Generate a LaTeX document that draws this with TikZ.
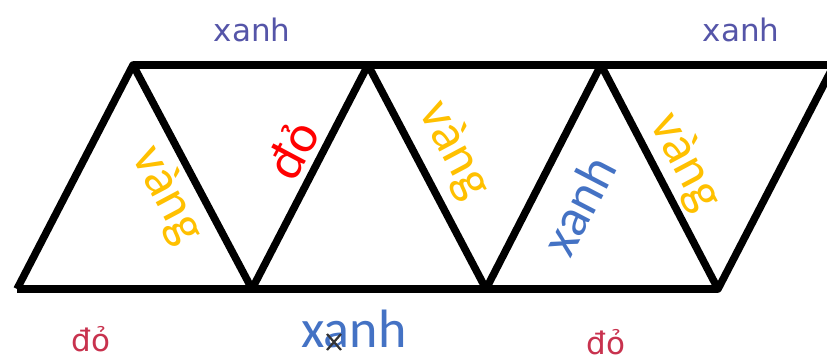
\documentclass[tikz,border=0pt]{standalone}
\usepackage{fontspec}
\setmainfont{DejaVu Sans}
\newfontfamily\calib{Carlito}
\definecolor{topblue}{HTML}{5555A8}
\definecolor{bigblue}{HTML}{4472C4}
\definecolor{yel}{HTML}{FFC000}
\definecolor{brightred}{HTML}{FF0000}
\definecolor{darkred}{HTML}{C8324E}
\begin{document}
\begin{tikzpicture}[x=1bp,y=-1bp,
  edge/.style={line width=7.5bp, black, line join=round},
  smalllbl/.style={inner sep=0pt, font=\fontsize{31bp}{31bp}\selectfont},
  biglbl/.style={inner sep=0pt, font=\calib\fontsize{53bp}{53bp}\selectfont},
]
\useasboundingbox (0,0) rectangle (827,361);
\begin{scope}
\clip (0,0) rectangle (827,361);
\coordinate (b1) at (17,289);
\coordinate (t1) at (133,65);
\coordinate (b2) at (252,289);
\coordinate (t2) at (368,65);
\coordinate (b3) at (486,289);
\coordinate (t3) at (601,65);
\coordinate (b4) at (718,289);
\coordinate (t4) at (834,65);
\coordinate (tr) at (840,65);
\draw[edge] (t1) -- (tr);
\draw[edge] (b1) -- (b4);
\draw[edge] (b1) -- (t1) -- (b2) -- (t2) -- (b3) -- (t3) -- (b4) -- (t4);
\end{scope}
% top labels
\node[smalllbl, text=topblue] (x1) at (252,30) {xanh};
\node[smalllbl, text=topblue] (x2) at (741,30) {xanh};
% bottom labels
\node[smalllbl, text=darkred] (d1) at (91,339) {đỏ};
\node[smalllbl, text=darkred] (d2) at (606,342) {đỏ};
\node[inner sep=0pt, text=bigblue, font=\calib\fontsize{54bp}{54bp}\selectfont] (x3) at (354,329) {xanh};
% small cross mark
\coordinate (m1) at (327,334);
\coordinate (m2) at (341,350);
\coordinate (m3) at (341,334);
\coordinate (m4) at (327,350);
\draw[line width=2.2bp, black!80] (m1) -- (m2) (m3) -- (m4);
% rotated labels
\node[biglbl, text=yel, rotate=-62] (v1) at (167,195) {vàng};
\node[biglbl, text=brightred, rotate=62] (r1) at (292,150) {đỏ};
\node[biglbl, text=yel, rotate=-62] (v2) at (454,150) {vàng};
\node[biglbl, text=bigblue, rotate=62.5] (x4) at (578,205) {xanh};
\node[biglbl, text=yel, rotate=-62] (v3) at (685,162) {vàng};
\end{tikzpicture}
\end{document}
